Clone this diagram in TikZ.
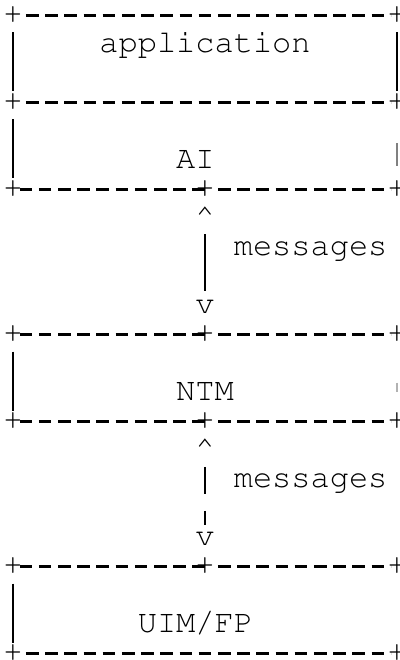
\documentclass[tikz,border=0pt]{standalone}
\usepackage[T1]{fontenc}
\usepackage{tikz}
\newcommand{\asciifont}{\fontfamily{pcr}\fontseries{m}\fontshape{n}\fontsize{32pt}{32pt}\selectfont}
\tikzstyle{glyph}=[
	inner sep=0pt,
	outer sep=0pt,
	font=\asciifont
]
\tikzstyle{corner}=[glyph]
\tikzstyle{boxtext}=[glyph, anchor=base west]
\tikzstyle{hrule}=[
	line width=3pt,
	dash pattern=on 12.6pt off 6.6pt,
	dash phase=12.6pt,
	shorten <=6.3pt,
	shorten >=6.3pt
]
\tikzstyle{side}=[
	line width=2pt,
	shorten <=17pt,
	shorten >=11pt
]
\tikzstyle{stem}=[line width=2pt]

\begin{document}
\begin{tikzpicture}[x=19.2pt, y=-29pt, shift={(13pt,-15.5pt)}]
\useasboundingbox (-13pt,15.5pt) rectangle (386pt,-644.5pt);
% corners of the boxes
\foreach \n/\c/\r in {appTL/0/0, appTR/20/0, aiTL/0/3, aiTR/20/3,
	aiBL/0/6, aiBM/10/6, aiBR/20/6, ntmTL/0/11, ntmTM/10/11, ntmTR/20/11,
	ntmBL/0/14, ntmBM/10/14, ntmBR/20/14, uimTL/0/19, uimTM/10/19,
	uimTR/20/19, uimBL/0/22, uimBR/20/22}
	\node [corner] (\n) at (\c,\r) {+};
% layers
\node [boxtext] (app) at (4.5,1.275) {application};
\node [boxtext] (ai) at (8.5,5.275) {AI};
\node [boxtext] (ntm) at (8.5,13.275) {NTM};
\node [boxtext] (uim) at (6.5,21.275) {UIM/FP};
% messages between layers
\node [boxtext] (up1) at (9.5,7.275) {\textasciicircum};
\node [boxtext] (msg1) at (11.5,8.275) {messages};
\node [boxtext] (down1) at (9.5,10.275) {v};
\node [boxtext] (up2) at (9.5,15.275) {\textasciicircum};
\node [boxtext] (msg2) at (11.5,16.275) {messages};
\node [boxtext] (down2) at (9.5,18.275) {v};
% borders
\draw [hrule] (appTL.center) -- (appTR.center);
\draw [hrule] (aiTL.center) -- (aiTR.center);
\draw [hrule] (aiBL.center) -- (aiBM.center) (aiBM.center) -- (aiBR.center);
\draw [hrule] (ntmTL.center) -- (ntmTM.center) (ntmTM.center) -- (ntmTR.center);
\draw [hrule] (ntmBL.center) -- (ntmBM.center) (ntmBM.center) -- (ntmBR.center);
\draw [hrule] (uimTL.center) -- (uimTM.center) (uimTM.center) -- (uimTR.center);
\draw [hrule] (uimBL.center) -- (uimBR.center);
\draw [side] (appTL.center) -- (aiTL.center);
\draw [side] (appTR.center) -- (aiTR.center);
\draw [side] (aiTL.center) -- (aiBL.center);
\draw [side, gray, shorten <=41pt, shorten >=23pt] (aiTR.center) -- (aiBR.center);
\draw [side] (ntmTL.center) -- (ntmBL.center);
\draw [side, gray!60, shorten <=48pt, shorten >=30pt] (ntmTR.center) -- (ntmBR.center);
\draw [side] (uimTL.center) -- (uimBL.center);
% arrows
\draw [stem, shorten <=8pt, shorten >=9pt] (up1.south) -- (down1.north);
\draw [stem, dash pattern=on 27pt off 17pt, shorten <=8.5pt, shorten >=7pt] (up2.south) -- (down2.north);
\end{tikzpicture}
\end{document}
